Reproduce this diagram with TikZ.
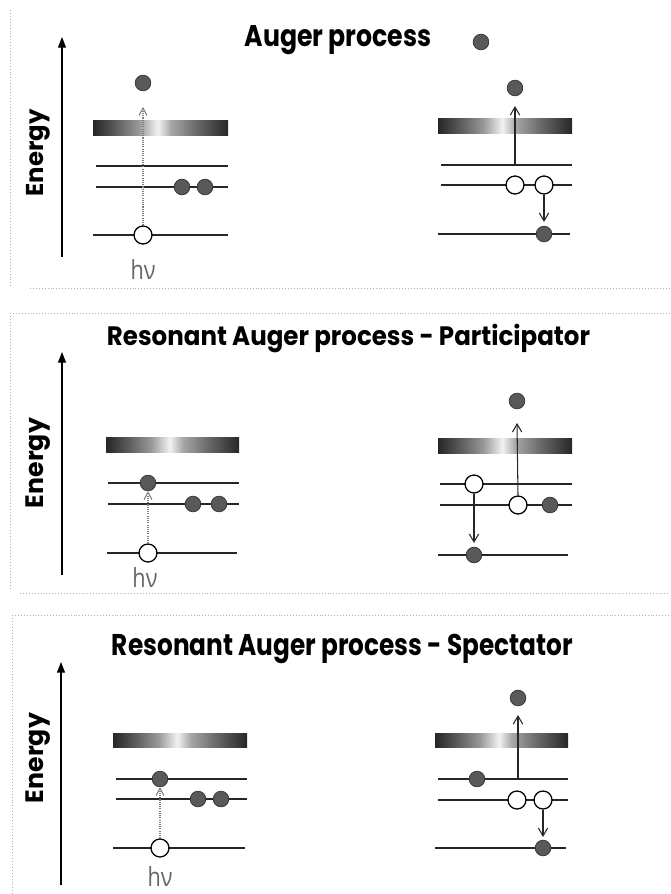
\documentclass[tikz,border=0pt]{standalone}
\usepackage{fontspec}
\usepackage{graphicx}
\usetikzlibrary{arrows.meta}
\newfontfamily\titlefont{Poppins}
\newfontfamily\hvfont{Open Sans}
\pgfdeclarehorizontalshading{bandshade}{100bp}{color(0bp)=(black!85); color(25bp)=(black!85); color(33bp)=(black!65); color(42bp)=(black!40); color(49bp)=(black!5); color(54bp)=(black!35); color(63bp)=(black!58); color(75bp)=(black!85); color(100bp)=(black!85)}
\tikzset{
  level/.style={line width=2pt, draw=black!85},
  bandbox/.style={shading=bandshade},
  elec/.style={circle, fill=black!65, draw=black!80, line width=0.6pt, minimum size=0.47cm, inner sep=0pt},
  hole/.style={circle, fill=white, draw=black, line width=1.1pt, minimum size=0.54cm, inner sep=0pt},
  decay/.style={-{Straight Barb[length=2.4mm,width=2.8mm]}, line width=0.9pt, draw=black!85},
  excite/.style={-{Straight Barb[length=2.2mm,width=2.4mm]}, densely dotted, line width=0.9pt, draw=black!50},
  eaxis/.style={-{Triangle[length=3.2mm,width=2.4mm]}, line width=1.1pt, draw=black},
  border/.style={dotted, line width=0.5pt, draw=black!30},
  energy/.style={rotate=90, inner sep=0pt},
  hvlab/.style={inner sep=0pt, text=black!60},
  ttl/.style={inner sep=0pt, anchor=base}
}
\newcommand\hvtext{\resizebox{0.75cm}{0.6cm}{\hvfont hν}}
\begin{document}
\begin{tikzpicture}[x=0.03cm, y=-0.03cm]
\useasboundingbox (0,0) rectangle (670,894);

% panel borders
\draw[border] (10,10) -- (10,287);
\draw[border] (30,288) -- (670,288);
\draw[border] (10,313) -- (670,313);
\draw[border] (10,313) -- (10,590);
\draw[border] (20,593) -- (670,593);
\draw[border] (12,615) -- (670,615);
\draw[border] (12,615) -- (12,894);

% ================= Panel 1 : Auger process =================
\node[ttl] (t1) at (338,46) {\resizebox{5.61cm}{0.63cm}{\titlefont\bfseries Auger process}};
\coordinate (ax1a) at (62,257);
\coordinate (ax1b) at (62,37);
\draw[eaxis] (ax1a) -- (ax1b);
\node[energy] (en1) at (38,153) {\resizebox{2.61cm}{!}{\titlefont\bfseries Energy}};

% left
\path[bandbox] (93,120) rectangle (228,135);
\draw[level] (96,166) -- (228,166);
\draw[level] (96,187) -- (228,187);
\draw[level] (93,235) -- (228,235);
\node[hole] (p1h) at (143,235) {};
\node[elec] (p1e1) at (182,187) {};
\node[elec] (p1e2) at (205,187) {};
\node[elec] (p1f) at (143,83) {};
\coordinate (p1x) at (143,107);
\draw[excite] (p1h.north) -- (p1x);
\node[hvlab] (hv1) at (143,269) {\hvtext};

% right
\path[bandbox] (438,118) rectangle (572,133);
\draw[level] (441,165) -- (572,165);
\draw[level] (441,185) -- (572,185);
\draw[level] (438,234) -- (570,234);
\node[hole] (q1h1) at (515,185) {};
\node[hole] (q1h2) at (544,185) {};
\node[elec] (q1c) at (544,234) {};
\node[elec] (q1e) at (515,88) {};
\node[elec] (q1t) at (481,42) {};
\coordinate (q1s) at (515,165);
\coordinate (q1u) at (515,106);
\draw[decay] (q1s) -- (q1u);
\coordinate (q1d) at (544,222);
\draw[decay] (q1h2.south) -- (q1d);

% ================= Panel 2 : Participator =================
\node[ttl] (t2) at (348.5,345) {\resizebox{14.49cm}{0.64cm}{\titlefont\bfseries Resonant Auger process - Participator}};
\coordinate (ax2a) at (62,575);
\coordinate (ax2b) at (62,352);
\draw[eaxis] (ax2a) -- (ax2b);
\node[energy] (en2) at (38,463) {\resizebox{2.7cm}{!}{\titlefont\bfseries Energy}};

% left
\path[bandbox] (106,437) rectangle (239,452);
\draw[level] (108,483) -- (239,483);
\draw[level] (108,504) -- (239,504);
\draw[level] (107,553) -- (237,553);
\node[hole] (p2h) at (148,553) {};
\node[elec] (p2a) at (148,483) {};
\node[elec] (p2e1) at (193,504) {};
\node[elec] (p2e2) at (219,504) {};
\draw[excite] (p2h.north) -- (p2a.south);
\node[hvlab] (hv2) at (145,577) {\hvtext};

% right
\path[bandbox] (438,438) rectangle (572,453);
\draw[level] (440,484) -- (572,484);
\draw[level] (440,505) -- (572,505);
\draw[level] (438,555) -- (568,555);
\node[hole] (q2a) at (474,484) {};
\node[hole] (q2b) at (518,505) {};
\node[elec] (q2e) at (550,505) {};
\node[elec] (q2c) at (474,555) {};
\node[elec] (q2f) at (517,401) {};
\coordinate (q2u) at (517,423);
\draw[decay] (q2b.north) -- (q2u);
\coordinate (q2d) at (474,543);
\draw[decay] (q2a.south) -- (q2d);

% ================= Panel 3 : Spectator =================
\node[ttl] (t3) at (342.5,655) {\resizebox{13.83cm}{0.64cm}{\titlefont\bfseries Resonant Auger process - Spectator}};
\coordinate (ax3a) at (61,885);
\coordinate (ax3b) at (61,662);
\draw[eaxis] (ax3a) -- (ax3b);
\node[energy] (en3) at (38,758) {\resizebox{2.7cm}{!}{\titlefont\bfseries Energy}};

% left
\path[bandbox] (113,733) rectangle (247,747);
\draw[level] (116,779) -- (247,779);
\draw[level] (116,799) -- (247,799);
\draw[level] (113,848) -- (245,848);
\node[hole] (p3h) at (160,848) {};
\node[elec] (p3a) at (160,779) {};
\node[elec] (p3e1) at (198,799) {};
\node[elec] (p3e2) at (221,799) {};
\draw[excite] (p3h.north) -- (p3a.south);
\node[hvlab] (hv3) at (160,876) {\hvtext};

% right
\path[bandbox] (435,733) rectangle (568,747);
\draw[level] (438,779) -- (568,779);
\draw[level] (438,800) -- (568,800);
\draw[level] (435,848) -- (566,848);
\node[elec] (q3a) at (477,779) {};
\node[hole] (q3h1) at (517,800) {};
\node[hole] (q3h2) at (543,800) {};
\node[elec] (q3c) at (543,848) {};
\node[elec] (q3f) at (518,698) {};
\coordinate (q3s) at (518,779);
\coordinate (q3u) at (518,715);
\draw[decay] (q3s) -- (q3u);
\coordinate (q3d) at (543,837);
\draw[decay] (q3h2.south) -- (q3d);
\end{tikzpicture}
\end{document}
